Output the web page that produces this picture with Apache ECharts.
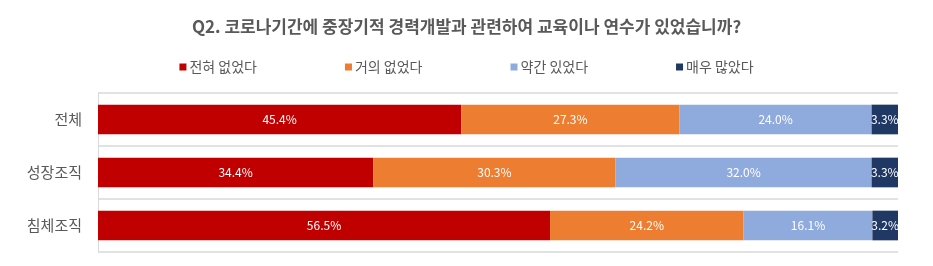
<!DOCTYPE html>
<html><head><meta charset="utf-8">
<script src="https://cdn.jsdelivr.net/npm/echarts@6/dist/echarts.min.js"></script>
<style>html,body{margin:0;padding:0;background:#fff}#c{width:933px;height:266px}</style>
</head><body><div id="c"></div>
<script>
const categories = ['전체', '성장조직', '침체조직'];
const seriesNames = ['전혀 없었다', '거의 없었다', '약간 있었다', '매우 많았다'];
const noneAtAll = [45.4, 34.4, 56.5];
const almostNone = [27.3, 30.3, 24.2];
const some = [24.0, 32.0, 16.1];
const veryMany = [3.3, 3.3, 3.2];
const colors = ['#C00000', '#ED7D31', '#8FAADC', '#1F3864'];
const values = [noneAtAll, almostNone, some, veryMany];

const font = '"Noto Sans CJK KR", "Noto Sans", sans-serif';
const chart = echarts.init(document.getElementById('c'));
chart.setOption({
  animation: false,
  title: {
    text: 'Q2. 코로나기간에 중장기적 경력개발과 관련하여 교육이나 연수가 있었습니까?',
    left: 'center', top: 13,
    textStyle: { fontFamily: font, fontSize: 17, fontWeight: 'bold', color: '#595959' }
  },
  legend: {
    top: 55, left: 'center', itemWidth: 7, itemHeight: 7, itemGap: 88,
    icon: 'rect',
    textStyle: { fontFamily: font, fontSize: 14, color: '#595959', padding: [0,0,0,-2] },
    data: seriesNames
  },
  grid: { left: 98, right: 35, top: 93, bottom: 14 },
  xAxis: { type: 'value', min: 0, max: 100, show: false },
  yAxis: {
    type: 'category', data: categories, inverse: true,
    axisLine: { show: true, lineStyle: { color: '#D9D9D9', width: 1 } },
    axisTick: { show: false },
    splitLine: { show: true, lineStyle: { color: '#D9D9D9', width: 1.5 } },
    axisLabel: { fontFamily: font, fontSize: 15, color: '#595959', margin: 16 }
  },
  series: seriesNames.map((n, i) => ({
    name: n, type: 'bar', stack: 'total', barWidth: '56%',
    data: values[i],
    itemStyle: { color: colors[i] },
    label: {
      show: true, position: 'inside', color: '#fff', fontFamily: font, fontSize: 12,
      formatter: p => p.value.toFixed(1) + '%'
    }
  }))
});
</script></body></html>
